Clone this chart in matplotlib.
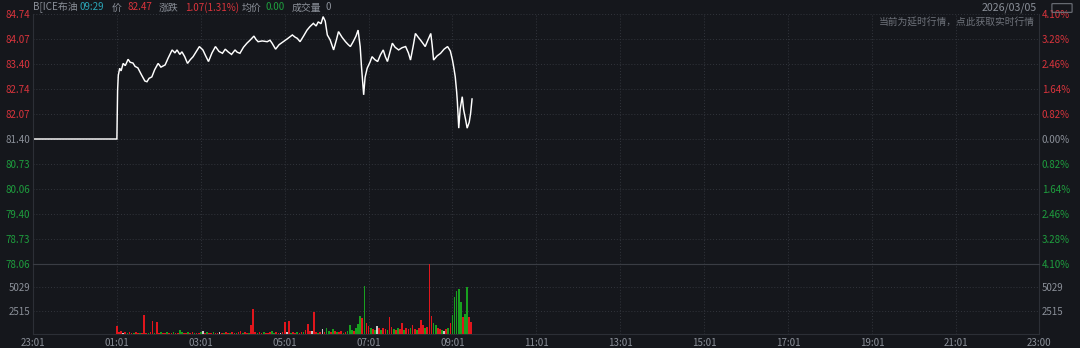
import matplotlib
matplotlib.use("Agg")
import matplotlib.pyplot as plt
from matplotlib.patches import FancyBboxPatch

plt.rcParams['font.family'] = ['Noto Sans CJK SC', 'DejaVu Sans']

# ---------------- data ----------------
# minutes since 23:01 and price
price_t = [0, 120, 121, 122, 124, 126, 129, 132, 136, 139, 143, 146, 150, 155, 160, 163, 166, 170,
           174, 179, 183, 189, 193, 199, 203, 206, 210, 213, 217, 221, 225, 229, 233, 238, 243,
           247, 251, 256, 261, 266, 271, 275, 279, 284, 289, 292, 296, 301, 306, 311, 316, 319,
           322, 328, 335, 339, 342, 347, 352, 358, 364, 371, 375, 378, 382, 387, 392, 396, 401,
           405, 408, 412, 415, 418, 421, 425, 430, 434, 437, 442, 447, 451, 454, 458, 462, 465,
           468, 470, 473, 475, 478, 482, 485, 489, 493, 497, 501, 504, 507, 511, 514, 518, 523,
           528, 533, 537, 540, 544, 547, 551, 554, 558, 561, 565, 569, 571, 573, 578, 583, 588,
           593, 597, 600, 602, 604, 606, 607, 609, 611, 614, 616, 619, 621, 624, 626, 628]
price_v = [81.40, 81.40, 82.70, 83.10, 83.29, 83.22, 83.42, 83.36, 83.53, 83.45, 83.43, 83.34,
           83.30, 83.12, 82.95, 82.93, 83.02, 83.06, 83.25, 83.42, 83.32, 83.38, 83.55, 83.78,
           83.70, 83.78, 83.66, 83.73, 83.60, 83.42, 83.52, 83.60, 83.72, 83.87, 83.78, 83.62,
           83.47, 83.70, 83.87, 83.74, 83.69, 83.80, 83.73, 83.66, 83.78, 83.72, 83.69, 83.85,
           83.96, 84.05, 84.15, 84.06, 84.00, 84.02, 84.00, 84.04, 83.96, 83.80, 83.92, 84.00,
           84.08, 84.18, 84.12, 84.09, 84.00, 84.15, 84.31, 84.40, 84.49, 84.42, 84.53, 84.48,
           84.67, 84.55, 84.18, 84.05, 83.78, 84.05, 84.27, 84.12, 84.00, 83.92, 83.87, 84.00,
           84.15, 84.31, 83.87, 83.30, 82.58, 83.05, 83.29, 83.45, 83.60, 83.52, 83.47, 83.65,
           83.78, 83.60, 83.47, 83.75, 83.96, 83.85, 83.78, 83.84, 83.87, 83.70, 83.51, 83.90,
           84.22, 84.12, 84.05, 83.95, 83.87, 84.05, 84.22, 83.90, 83.51, 83.62, 83.69, 83.80,
           83.87, 83.75, 83.51, 83.30, 83.06, 82.66, 82.40, 81.69, 82.20, 82.53, 82.18, 81.90,
           81.69, 81.85, 82.09, 82.47]

# volume bars every 3 minutes starting 01:01 (minute 120)
vol_start = 120
vol_step = 3
volume = [860, 200, 350, 150, 250, 120, 200, 150, 100, 180,
          120, 150, 100, 2050, 150, 120, 200, 1400, 150, 1300,
          120, 200, 150, 100, 180, 150, 120, 200, 150, 120,
          450, 200, 150, 120, 180, 150, 200, 120, 150, 100,
          200, 300, 150, 180, 120, 150, 200, 120, 150, 200,
          150, 120, 180, 150, 120, 200, 150, 120, 180, 300,
          150, 200, 120, 150, 970, 2700, 200, 150, 180, 120,
          200, 150, 120, 180, 320, 150, 200, 120, 150, 200,
          1250, 250, 1350, 150, 200, 120, 180, 150, 200, 250,
          400, 1100, 350, 300, 2330, 200, 150, 200, 570, 200,
          680, 300, 200, 500, 300, 250, 200, 300, 150, 250,
          350, 930, 400, 300, 600, 1100, 1900, 1700, 5200, 1200,
          900, 700, 500, 400, 900, 600, 400, 700, 500, 400,
          1850, 800, 500, 400, 600, 500, 1200, 400, 600, 500,
          700, 1000, 500, 400, 700, 1540, 1000, 600, 800, 7540,
          1950, 1200, 1000, 700, 500, 400, 300, 500, 700, 1200,
          2000, 4000, 4600, 4900, 3500, 1800, 2200, 5100, 1800, 1300]
vol_dir = list("rrrwrgrrgr" "rgrrrgrrgr" "rgrrgrrgrr" "ggrrgrrgrr" "gwrgrrgrrw"
               "rgrrgrrgrr" "grrgrrrgrr" "grrrggrrwr" "rwrgrrgrrg" "rrrwrrgrwr"
               "ggrgrgrrgr" "gggrgggrgr" "rgrgwrgrrg" "rrgrgrrgrr" "grrgrrrgrr"
               "rggrrgwrgr" "gggggrggrr")

price_ticks = [84.74, 84.07, 83.40, 82.74, 82.07, 81.40, 80.73, 80.06, 79.40, 78.73, 78.06]
pct_labels = ["4.10%", "3.28%", "2.46%", "1.64%", "0.82%", "0.00%",
              "0.82%", "1.64%", "2.46%", "3.28%", "4.10%"]
vol_ticks = [2515, 5029]
vol_max = 7543
time_ticks = [0, 120, 240, 360, 480, 600, 720, 840, 960, 1080, 1200, 1320, 1439]
time_labels = ["23:01", "01:01", "03:01", "05:01", "07:01", "09:01", "11:01", "13:01",
               "15:01", "17:01", "19:01", "21:01", "23:00"]

# ---------------- style ----------------
BG = "#15171c"
GRID = "#32353c"
SPINE = "#2c2f36"
GRAY = "#8b9099"
RED = "#d9343c"
GREEN = "#1e9e3e"
TEAL = "#2aa3b5"
cmap = {"r": "#e0161c", "g": "#18a01f", "w": "#c8c8c8"}

W, H = 1080, 348
fig = plt.figure(figsize=(W / 100, H / 100), dpi=100, facecolor=BG)

L, R = 33, 1039
TOP, MID, BOT = 14, 264, 334
ax = fig.add_axes([L / W, 1 - MID / H, (R - L) / W, (MID - TOP) / H], facecolor=BG)
axv = fig.add_axes([L / W, 1 - BOT / H, (R - L) / W, (BOT - MID) / H], facecolor=BG)

# price panel
ax.plot(price_t, price_v, color="white", lw=1.05, solid_joinstyle="miter")
ax.set_xlim(0, 1439)
ax.set_ylim(price_ticks[-1], price_ticks[0])
ax.set_yticks(price_ticks)
ax.set_yticklabels([f"{v:.2f}" for v in price_ticks])
ax.set_xticks(time_ticks)
ax.tick_params(axis="x", length=0, labelbottom=False)
ax.tick_params(axis="y", length=0, pad=2, labelsize=7)
for lbl, v in zip(ax.get_yticklabels(), price_ticks):
    lbl.set_color(RED if v > 81.40 else (GREEN if v < 81.40 else GRAY))
ax.grid(True, color=GRID, lw=0.7, ls=(0, (1, 2)))
for s in ax.spines.values():
    s.set_color(SPINE)
    s.set_linewidth(0.8)
ax.spines["top"].set_visible(False)

axr = ax.twinx()
axr.set_ylim(price_ticks[-1], price_ticks[0])
axr.set_yticks(price_ticks)
axr.set_yticklabels(pct_labels)
axr.tick_params(axis="y", length=0, pad=2, labelsize=7)
for lbl, v in zip(axr.get_yticklabels(), price_ticks):
    lbl.set_color(RED if v > 81.40 else (GREEN if v < 81.40 else GRAY))
for s in axr.spines.values():
    s.set_visible(False)

# volume panel
vt = [vol_start + vol_step * i for i in range(len(volume))]
for key, col in cmap.items():
    xs = [t for t, d in zip(vt, vol_dir) if d == key]
    ys = [v for v, d in zip(volume, vol_dir) if d == key]
    axv.bar(xs, ys, width=2.4, color=col, align="center", lw=0, zorder=3)
axv.set_xlim(0, 1439)
axv.set_ylim(0, vol_max)
axv.set_yticks(vol_ticks)
axv.set_yticklabels([str(v) for v in vol_ticks])
axv.set_xticks(time_ticks)
axv.set_xticklabels(time_labels)
axv.tick_params(axis="x", length=0, pad=3, labelsize=7, colors=GRAY)
axv.tick_params(axis="y", length=0, pad=2, labelsize=7, colors=GRAY,
                labelright=True, labelleft=True)
axv.grid(True, color=GRID, lw=0.7, ls=(0, (1, 2)))
for s in axv.spines.values():
    s.set_color(SPINE)
    s.set_linewidth(0.8)
axv.spines["top"].set_color("#3a3d44")

# header
y_head = 1 - 7.5 / H
items = [(33, "B[ICE布油", GRAY), (80, "09:29", TEAL), (112, "价", GRAY), (127, "82.47", RED),
         (159, "涨跌", GRAY), (185, "1.07(1.31%)", RED), (242, "均价", GRAY),
         (266, "0.00", GREEN), (292, "成交量", GRAY), (326, "0", GRAY)]
for x, s, c in items:
    fig.text(x / W, y_head, s, color=c, fontsize=7.1, ha="left", va="center")
fig.text(1037 / W, y_head, "2026/03/05", color=GRAY, fontsize=7.6, ha="right", va="center")
fig.text(1035 / W, 1 - 22 / H, "当前为延时行情，点此获取实时行情", color="#6f737b",
         fontsize=7, ha="right", va="center")
icon = FancyBboxPatch((1053 / W, 1 - 12 / H), 18 / W, 8 / H, boxstyle="round,pad=0.001",
                      transform=fig.transFigure, fill=False, ec="#6f737b", lw=0.8)
fig.patches.append(icon)

fig.savefig("out.png", dpi=100, facecolor=BG)
